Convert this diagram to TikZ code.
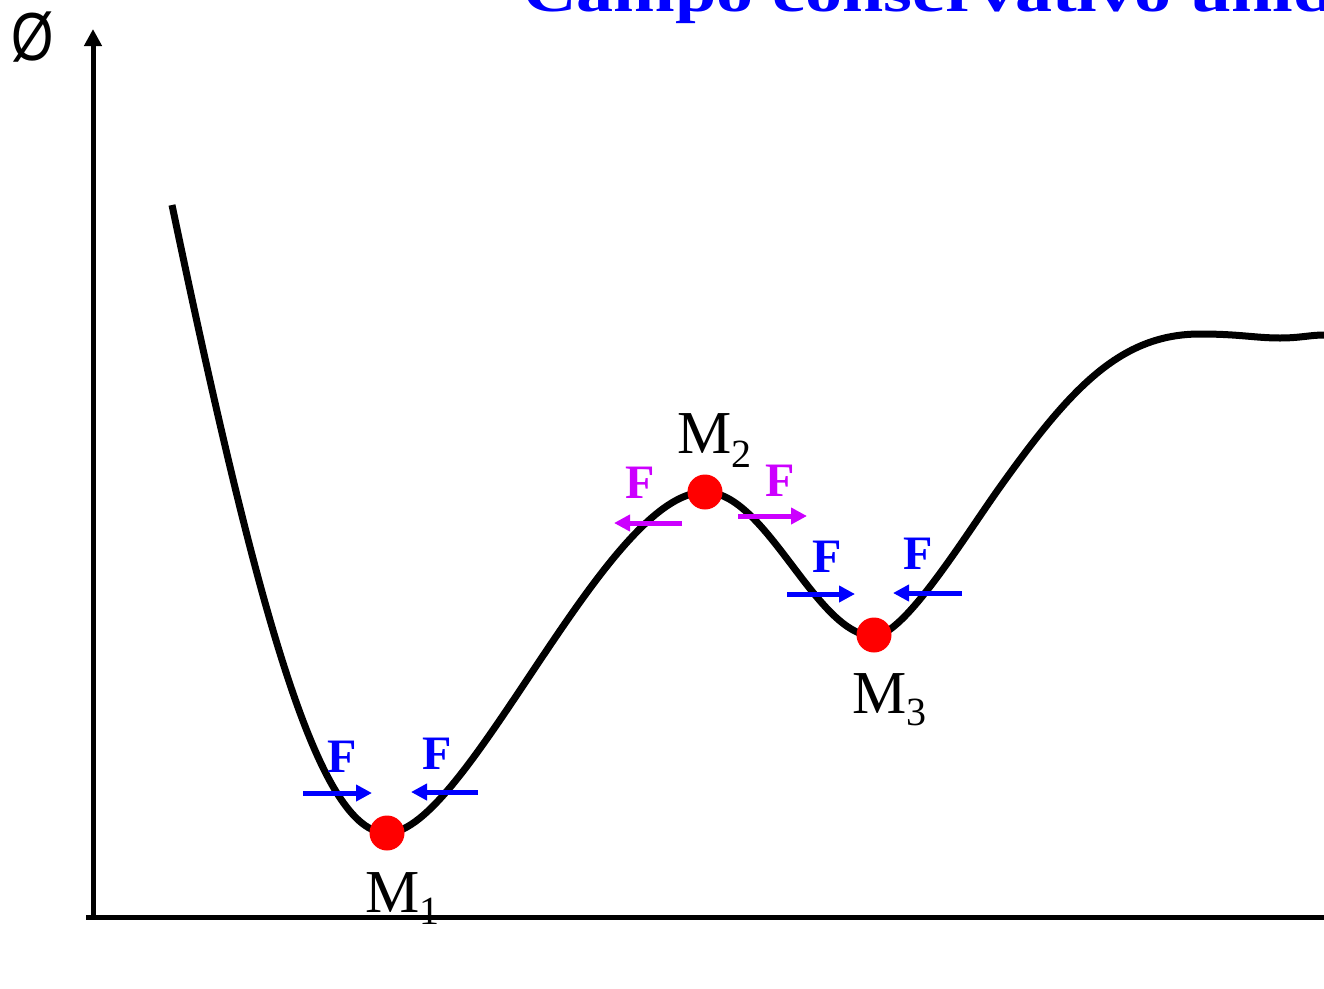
\documentclass[tikz,border=0pt]{standalone}
\usepackage{fontspec}
\setmainfont{Liberation Serif}
\newfontfamily\arialfont{Liberation Sans}
\usetikzlibrary{arrows.meta}
\definecolor{fblue}{RGB}{0,0,255}
\definecolor{fmag}{RGB}{204,0,255}
\definecolor{dotred}{RGB}{255,0,0}
\begin{document}
\begin{tikzpicture}[x=1pt,y=-1pt,
  axis/.style={line width=5pt, black},
  curve/.style={line width=7pt, black, line join=round},
  farrow/.style={line width=5pt, -{Triangle[length=16pt,width=16pt]}},
  flabel/.style={font=\fontsize{48}{48}\selectfont\bfseries, inner sep=0pt, anchor=base},
  mlabel/.style={font=\fontsize{61}{61}\selectfont, inner sep=0pt, anchor=base west},
  dot/.style={circle, fill=dotred, minimum size=35pt, inner sep=0pt}]
\useasboundingbox (0,0) rectangle (1324,988);

% title (cut off at top edge)
\node[font=\fontsize{57}{57}\selectfont\bfseries, text=fblue, anchor=base west, inner sep=0pt] (title) at (523,11) {\scalebox{1.3}[1]{Campo conservativo unidimensional}};

% axes
\coordinate (yb) at (93,917);
\coordinate (yt) at (93,29);
\coordinate (xs) at (86,917);
\coordinate (xe) at (1324,917);
\draw[axis] (xs) -- (xe);
\draw[axis, -{Triangle[length=17pt,width=17pt]}] (yb) -- (yt);
\node[font=\arialfont\fontsize{68}{68}\selectfont, inner sep=0pt] (phi) at (33,37) {\scalebox{0.8}[1]{Ø}};

% potential curve
\coordinate (c0) at (172,205);
\coordinate (p1) at (387,833);
\coordinate (p2) at (705,492);
\coordinate (p3) at (874,636);
\coordinate (q1) at (1000,487);
\coordinate (q2) at (1200,334);
\coordinate (q3) at (1280,338);
\coordinate (c9) at (1324,335);
\draw[curve] (c0) .. controls (260,625) and (320,833) .. (p1)
  .. controls (467,833) and (605,492) .. (p2)
  .. controls (767,492) and (816,636) .. (p3)
  .. controls (904,636) and (965,536) .. (q1)
  .. controls (1070,389) and (1120,334) .. (q2)
  .. controls (1240,334) and (1255,338) .. (q3)
  .. controls (1300,338) and (1310,335) .. (c9);

% force arrows
\coordinate (a1s) at (303,793); \coordinate (a1e) at (372,793);
\coordinate (a2s) at (478,792); \coordinate (a2e) at (411,792);
\coordinate (b1s) at (682,523); \coordinate (b1e) at (614,523);
\coordinate (b2s) at (738,516); \coordinate (b2e) at (807,516);
\coordinate (c1s) at (787,594); \coordinate (c1e) at (855,594);
\coordinate (c2s) at (962,593); \coordinate (c2e) at (893,593);
\draw[farrow, fblue] (a1s) -- (a1e);
\draw[farrow, fblue] (a2s) -- (a2e);
\draw[farrow, fmag] (b1s) -- (b1e);
\draw[farrow, fmag] (b2s) -- (b2e);
\draw[farrow, fblue] (c1s) -- (c1e);
\draw[farrow, fblue] (c2s) -- (c2e);

\node[flabel, text=fblue] (fa1) at (342,772) {F};
\node[flabel, text=fblue] (fa2) at (437,769) {F};
\node[flabel, text=fmag] (fb1) at (640,498) {F};
\node[flabel, text=fmag] (fb2) at (780,496) {F};
\node[flabel, text=fblue] (fc1) at (827,572) {F};
\node[flabel, text=fblue] (fc2) at (918,569) {F};

% equilibrium points
\node[dot] (m1) at (387,833) {};
\node[dot] (m2) at (705,492) {};
\node[dot] (m3) at (874,635) {};

\node[mlabel] (l1) at (365,912) {M\raisebox{-12pt}{\fontsize{40}{40}\selectfont 1}};
\node[mlabel] (l2) at (677,453) {M\raisebox{-14pt}{\fontsize{40}{40}\selectfont 2}};
\node[mlabel] (l3) at (852,713) {M\raisebox{-12pt}{\fontsize{40}{40}\selectfont 3}};
\end{tikzpicture}
\end{document}
